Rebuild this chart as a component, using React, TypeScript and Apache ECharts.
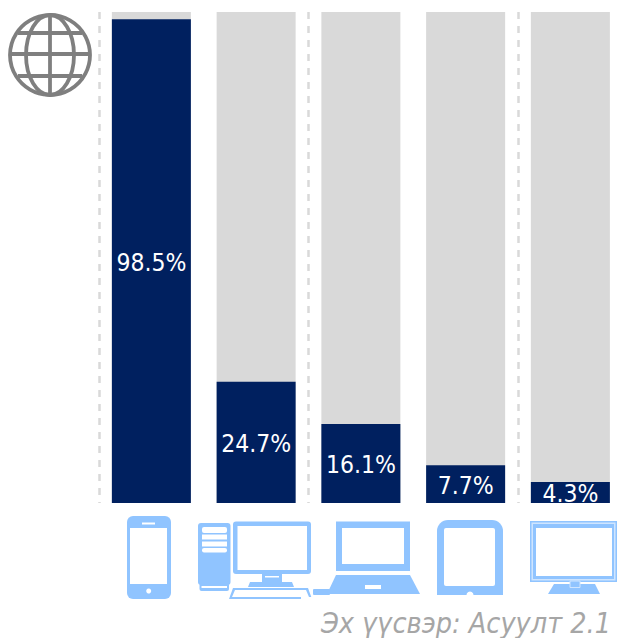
import React, { useEffect, useRef } from "react";
import * as echarts from "echarts";

const categories = ["Ухаалаг утас", "Суурин компьютер", "Зөөврийн компьютер", "Таблет", "Ухаалаг ТВ"];
const values = [98.5, 24.7, 16.1, 7.7, 4.3];
const sourceText = "Эх үүсвэр: Асуулт 2.1";

const BLUE = "#90C4FF";
const NAVY = "#00205F";
const GREY = "#D9D9D9";
const W = "#FFFFFF";
const FONT = "'DejaVu Sans Condensed', 'DejaVu Sans', sans-serif";

const rect = (x: number, y: number, width: number, height: number, fill: string, r: any = 0, extra: any = {}) => ({
  type: "rect",
  shape: { x, y, width, height, r },
  style: { fill, ...extra },
  silent: true,
});
const poly = (points: number[][], fill: string) => ({
  type: "polygon",
  shape: { points },
  style: { fill },
  silent: true,
});
const circle = (cx: number, cy: number, r: number, fill: string) => ({
  type: "circle",
  shape: { cx, cy, r },
  style: { fill },
  silent: true,
});

const globeStroke = { stroke: "#7F7F7F", lineWidth: 3.8, fill: "none" };
const gLine = (x1: number, y1: number, x2: number, y2: number) => ({
  type: "line",
  shape: { x1, y1, x2, y2 },
  style: globeStroke,
  silent: true,
});
const globe = [
  { type: "circle", shape: { cx: 50, cy: 55, r: 40 }, style: globeStroke, silent: true },
  { type: "ellipse", shape: { cx: 50, cy: 55, rx: 24, ry: 40 }, style: globeStroke, silent: true },
  gLine(50, 15, 50, 95),
  gLine(10, 54, 90, 54),
  gLine(18, 33, 82, 33),
  gLine(18, 76, 82, 76),
];

const phone = [
  rect(127, 516, 44, 83, BLUE, 6),
  rect(130, 528, 37, 56, W),
  rect(142, 522.5, 13, 2, W),
  circle(148.7, 591, 2.5, W),
];
const desktop = [
  rect(198, 523, 32.5, 62, BLUE, 3),
  rect(199.5, 583, 29.5, 8, BLUE, 2),
  rect(202, 527, 25, 6, W, 2),
  rect(202, 534.5, 25, 5, W),
  rect(202, 541.5, 25, 5, W),
  rect(202, 548, 25, 4.5, W, 2),
  rect(201.5, 586, 25.5, 2, W),
  rect(233, 521.5, 78, 52.5, BLUE, 3),
  rect(237.5, 526, 69.5, 44, W),
  rect(262, 574, 20, 9, BLUE),
  rect(265, 576, 14, 1.5, W),
  poly([[250, 582], [292, 582], [294, 587], [248, 587]], BLUE),
  poly([[233, 588], [308, 588], [312, 599], [229, 599]], BLUE),
  poly([[235, 590], [306, 590], [309, 597], [232, 597]], W),
  rect(301, 597, 12, 3, W),
];
const laptop = [
  rect(313, 589, 17, 6, BLUE, 1),
  rect(336, 521.6, 74, 49.5, BLUE),
  rect(342, 528, 62, 36, W),
  poly([[336, 575], [410, 575], [420, 594], [327, 594]], BLUE),
  rect(365, 585, 16, 4, W),
];
const tablet = [
  rect(437, 520, 66, 75, BLUE, [11, 11, 0, 0]),
  rect(444, 528, 51, 58, W, 2),
  circle(470, 595, 3.5, W),
];
const monitor = [
  rect(530, 521, 87, 61, BLUE),
  rect(531.5, 522.5, 84, 58, "#CFE5FF"),
  rect(533, 524, 81, 55, BLUE),
  rect(536, 528, 76, 48, W),
  poly([[554, 584], [595, 584], [600, 594], [548, 594]], BLUE),
  rect(570, 581, 10, 6.5, BLUE, 0, { stroke: "#CFE5FF", lineWidth: 1 }),
];

export default function App() {
  const ref = useRef<HTMLDivElement>(null);
  useEffect(() => {
    const chart = echarts.init(ref.current!, undefined, { renderer: "svg" });
    chart.setOption({
      animation: false,
      grid: { left: 99, top: 12, width: 523.75, height: 491, outerBoundsMode: "none" },
      xAxis: {
        type: "category",
        data: categories,
        axisLine: { show: false },
        axisTick: { show: false },
        axisLabel: { show: false },
        splitLine: {
          show: true,
          lineStyle: { color: GREY, width: 2.5, type: [7, 7] },
        },
      },
      yAxis: {
        type: "value",
        min: 0,
        max: 100,
        show: false,
        splitLine: { show: false },
      },
      series: [
        {
          type: "bar",
          data: values,
          barWidth: 79,
          showBackground: true,
          backgroundStyle: { color: GREY },
          itemStyle: { color: NAVY },
          label: {
            show: true,
            position: "inside",
            offset: [0, 1.5],
            formatter: (p: any) => `${p.value}%`,
            color: "#FFFFFF",
            fontFamily: FONT,
            fontSize: 24.5,
          },
        },
      ],
      graphic: {
        elements: [
          ...globe,
          ...phone,
          ...desktop,
          ...laptop,
          ...tablet,
          ...monitor,
          {
            type: "text",
            right: 6,
            top: 608.5,
            style: {
              text: sourceText,
              fill: "#A6A6A6",
              font: `italic 28.5px ${FONT}`,
            },
            silent: true,
          },
        ],
      },
    });
    return () => chart.dispose();
  }, []);
  return (
    <div
      ref={ref}
      style={{ position: "fixed", left: 0, top: 0, width: 617, height: 638, overflow: "hidden", background: "#fff" }}
    />
  );
}
